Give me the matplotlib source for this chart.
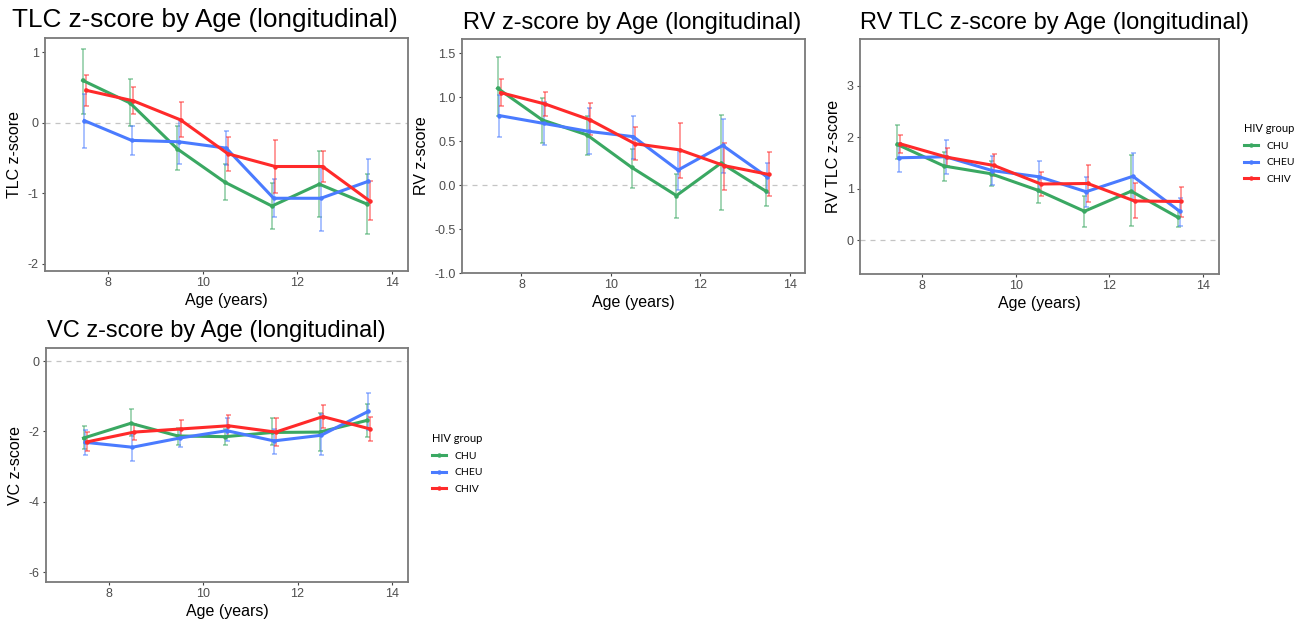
import numpy as np
import matplotlib
matplotlib.use("Agg")
import matplotlib.pyplot as plt
from matplotlib.lines import Line2D

plt.rcParams['font.family'] = ['Liberation Sans', 'DejaVu Sans']

ages = [7.5, 8.5, 9.5, 10.5, 11.5, 12.5, 13.5]
groups = ['CHU', 'CHEU', 'CHIV']
colors = ['#3aa862', '#4a7bff', '#ff2a2a']
dodge = [-0.035, 0.0, 0.035]

# TLC z-score
tlc_chu = [0.60, 0.28, -0.37, -0.84, -1.18, -0.87, -1.15]
tlc_chu_lo = [0.12, -0.05, -0.67, -1.10, -1.50, -1.34, -1.58]
tlc_chu_hi = [1.05, 0.62, -0.05, -0.58, -0.86, -0.40, -0.72]
tlc_cheu = [0.03, -0.25, -0.27, -0.36, -1.07, -1.07, -0.83]
tlc_cheu_lo = [-0.36, -0.46, -0.58, -0.60, -1.34, -1.53, -1.13]
tlc_cheu_hi = [0.40, -0.05, 0.05, -0.12, -0.80, -0.62, -0.52]
tlc_chiv = [0.46, 0.31, 0.04, -0.44, -0.62, -0.62, -1.11]
tlc_chiv_lo = [0.24, 0.13, -0.20, -0.68, -1.00, -0.84, -1.38]
tlc_chiv_hi = [0.68, 0.50, 0.29, -0.20, -0.24, -0.40, -0.82]

# RV z-score
rv_chu = [1.10, 0.74, 0.57, 0.20, -0.12, 0.25, -0.07]
rv_chu_lo = [0.78, 0.48, 0.34, -0.03, -0.37, -0.28, -0.24]
rv_chu_hi = [1.45, 0.99, 0.78, 0.41, 0.13, 0.80, 0.10]
rv_cheu = [0.79, 0.70, 0.61, 0.55, 0.17, 0.45, 0.09]
rv_cheu_lo = [0.55, 0.46, 0.35, 0.30, -0.06, 0.14, -0.09]
rv_cheu_hi = [1.02, 0.94, 0.87, 0.78, 0.40, 0.75, 0.25]
rv_chiv = [1.05, 0.92, 0.74, 0.47, 0.40, 0.22, 0.12]
rv_chiv_lo = [0.90, 0.78, 0.57, 0.29, 0.08, -0.06, -0.12]
rv_chiv_hi = [1.20, 1.06, 0.93, 0.66, 0.71, 0.48, 0.38]

# RV/TLC z-score
rvtlc_chu = [1.86, 1.44, 1.29, 0.97, 0.56, 0.95, 0.44]
rvtlc_chu_lo = [1.57, 1.14, 1.05, 0.72, 0.25, 0.27, 0.25]
rvtlc_chu_hi = [2.23, 1.71, 1.54, 1.22, 0.85, 1.65, 0.58]
rvtlc_cheu = [1.60, 1.62, 1.35, 1.23, 0.94, 1.24, 0.56]
rvtlc_cheu_lo = [1.32, 1.28, 1.08, 0.93, 0.65, 0.76, 0.28]
rvtlc_cheu_hi = [1.88, 1.95, 1.64, 1.53, 1.23, 1.70, 0.81]
rvtlc_chiv = [1.87, 1.61, 1.45, 1.09, 1.10, 0.76, 0.75]
rvtlc_chiv_lo = [1.69, 1.44, 1.24, 0.86, 0.74, 0.42, 0.45]
rvtlc_chiv_hi = [2.05, 1.79, 1.67, 1.32, 1.46, 1.10, 1.04]

# VC z-score
vc_chu = [-2.19, -1.77, -2.13, -2.15, -2.03, -2.02, -1.69]
vc_chu_lo = [-2.50, -2.13, -2.38, -2.40, -2.40, -2.56, -2.15]
vc_chu_hi = [-1.85, -1.37, -1.90, -1.92, -1.63, -1.48, -1.22]
vc_cheu = [-2.31, -2.45, -2.19, -1.98, -2.27, -2.11, -1.43]
vc_cheu_lo = [-2.67, -2.83, -2.43, -2.27, -2.63, -2.67, -1.95]
vc_cheu_hi = [-1.95, -2.07, -1.92, -1.62, -1.93, -1.50, -0.92]
vc_chiv = [-2.30, -2.02, -1.93, -1.84, -2.02, -1.58, -1.93]
vc_chiv_lo = [-2.57, -2.24, -2.20, -2.12, -2.42, -1.91, -2.28]
vc_chiv_hi = [-2.02, -1.80, -1.67, -1.53, -1.62, -1.25, -1.58]

W, H = 1304, 623
fig = plt.figure(figsize=(W / 100, H / 100), dpi=100)


def px_axes(left, top, right, bottom):
    return fig.add_axes([left / W, 1 - bottom / H, (right - left) / W, (bottom - top) / H])


def panel(ax, series, ylim, yticks, ylabel, ytfmt):
    ax.axhline(0, color='#c4c4c4', lw=0.9, ls=(0, (4, 4)), zorder=1)
    for (m, lo, hi), c, d in zip(series, colors, dodge):
        x = np.array(ages) + d
        m = np.array(m)
        ax.errorbar(x, m, yerr=[m - np.array(lo), np.array(hi) - m], fmt='none',
                    ecolor=c, elinewidth=1.1, capsize=1.8, capthick=1.1, alpha=0.6, zorder=2)
        ax.plot(x, m, color=c, lw=2.2, marker='o', ms=2.2, zorder=3)
    ax.set_xlim(6.67, 14.34)
    ax.set_ylim(*ylim)
    ax.set_xticks([8, 10, 12, 14])
    ax.set_yticks(yticks)
    ax.set_yticklabels([ytfmt.format(v) for v in yticks])
    ax.set_xlabel('Age (years)', fontsize=11.5, labelpad=3)
    ax.set_ylabel(ylabel, fontsize=11.5, labelpad=4)
    ax.tick_params(length=2.5, width=0.8, color='#444444', labelsize=9, labelcolor='#4d4d4d', pad=2)
    for s in ax.spines.values():
        s.set_color('#7a7a7a')
        s.set_linewidth(1.3)


ax1 = px_axes(45, 38, 408, 271)
panel(ax1, [(tlc_chu, tlc_chu_lo, tlc_chu_hi), (tlc_cheu, tlc_cheu_lo, tlc_cheu_hi),
            (tlc_chiv, tlc_chiv_lo, tlc_chiv_hi)],
      (-2.1, 1.2), [-2, -1, 0, 1], 'TLC z-score', '{:g}')
fig.text(12 / W, 1 - 27 / H, 'TLC z-score by Age (longitudinal)', fontsize=18.8, va='baseline')

ax2 = px_axes(462, 39, 805, 273)
panel(ax2, [(rv_chu, rv_chu_lo, rv_chu_hi), (rv_cheu, rv_cheu_lo, rv_cheu_hi),
            (rv_chiv, rv_chiv_lo, rv_chiv_hi)],
      (-1.0, 1.66), [-1.0, -0.5, 0.0, 0.5, 1.0, 1.5], 'RV z-score', '{:.1f}')
fig.text(463 / W, 1 - 29 / H, 'RV z-score by Age (longitudinal)', fontsize=17, va='baseline')

ax3 = px_axes(860, 39, 1219, 274)
panel(ax3, [(rvtlc_chu, rvtlc_chu_lo, rvtlc_chu_hi), (rvtlc_cheu, rvtlc_cheu_lo, rvtlc_cheu_hi),
            (rvtlc_chiv, rvtlc_chiv_lo, rvtlc_chiv_hi)],
      (-0.66, 3.91), [0, 1, 2, 3], 'RV TLC z-score', '{:g}')
fig.text(860 / W, 1 - 29 / H, 'RV TLC z-score by Age (longitudinal)', fontsize=17, va='baseline')

ax4 = px_axes(46, 348, 408, 582)
panel(ax4, [(vc_chu, vc_chu_lo, vc_chu_hi), (vc_cheu, vc_cheu_lo, vc_cheu_hi),
            (vc_chiv, vc_chiv_lo, vc_chiv_hi)],
      (-6.28, 0.37), [-6, -4, -2, 0], 'VC z-score', '{:g}')
fig.text(47 / W, 1 - 337 / H, 'VC z-score by Age (longitudinal)', fontsize=17, va='baseline')

handles = [Line2D([], [], color=c, lw=2.2, marker='o', ms=2.2) for c in colors]
for ax, (lx, ly) in [(ax3, (1239, 118)), (ax4, (427, 428))]:
    ax.legend(handles, groups, title='HIV group', loc='upper left',
              bbox_to_anchor=(lx / W, 1 - ly / H), bbox_transform=fig.transFigure,
              frameon=False, fontsize=7.5, title_fontsize=8, alignment='left',
              handlelength=1.3, handletextpad=0.8, labelspacing=0.7, borderpad=0,
              prop={'family': ['Lato', 'DejaVu Sans'], 'size': 7.5})
    ax.get_legend().get_title().set_family(['Lato', 'DejaVu Sans'])

fig.savefig('out.png', dpi=100)
